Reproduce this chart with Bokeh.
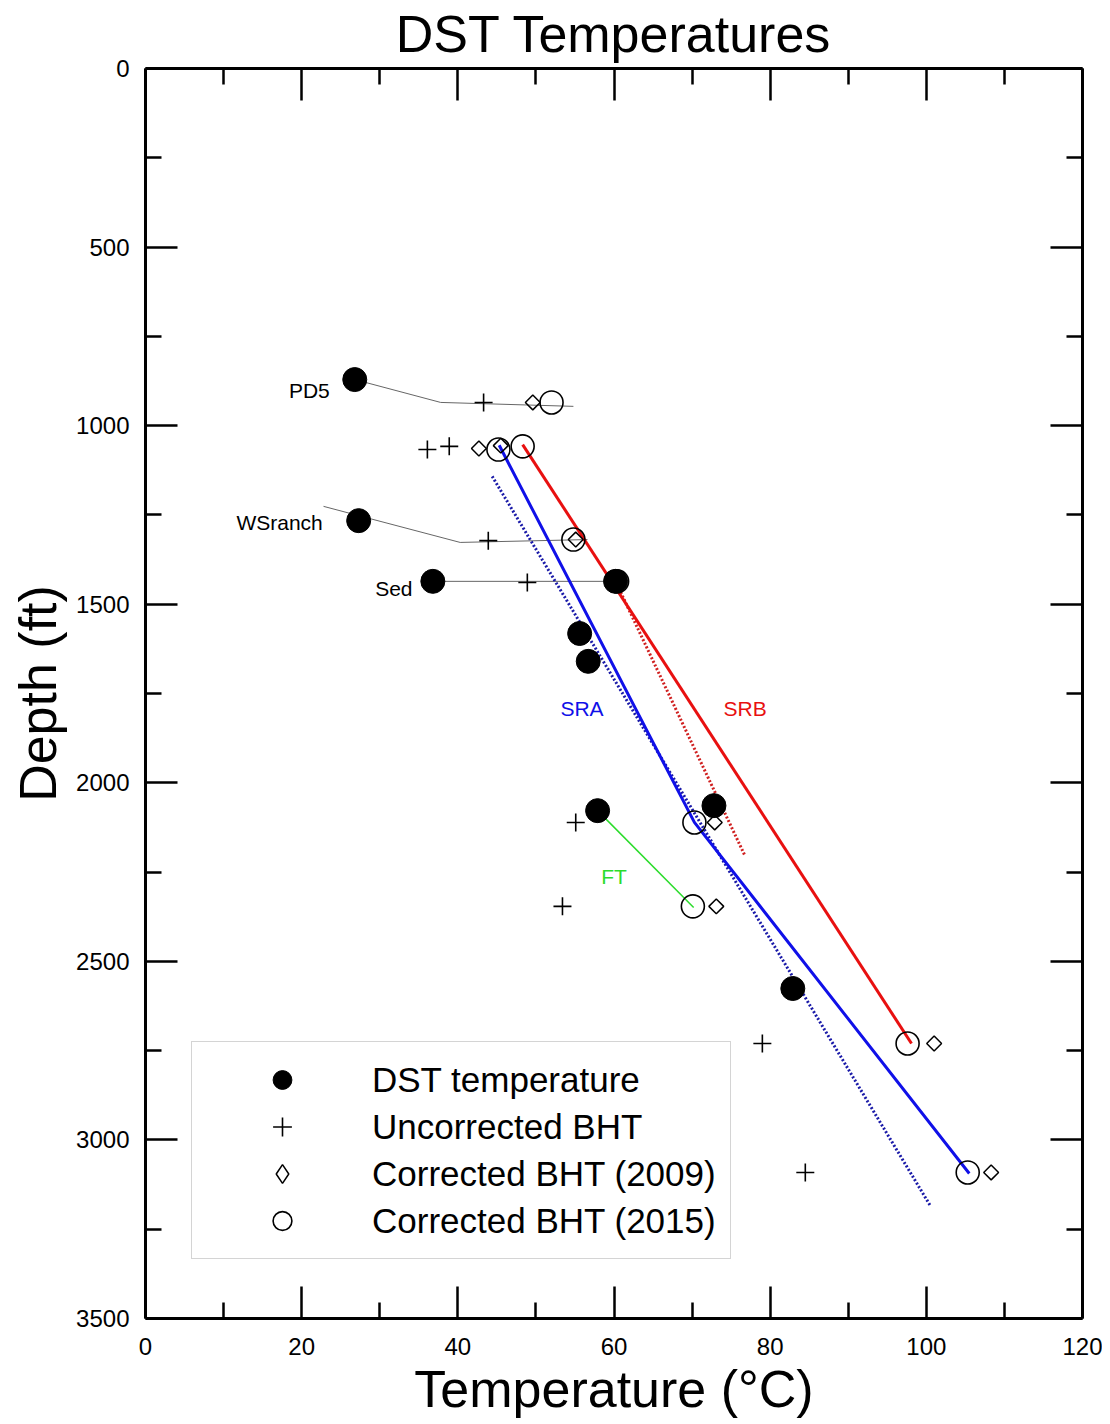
import math
from bokeh.plotting import figure
from bokeh.models import (Range1d, LinearAxis, FixedTicker, Legend, LegendItem,
                          ColumnDataSource, CustomLabelingPolicy)
from bokeh.core.properties import value
from bokeh.embed import file_html
from bokeh.resources import INLINE

FONT = "Liberation Sans"

# ---------------- data ----------------
dst_temp = [26.8, 27.3, 36.8, 60.2, 55.6, 56.7, 57.9, 72.8, 82.9]
dst_depth = [871, 1266, 1436, 1436, 1582, 1660, 2078, 2064, 2576]

bht_temp = [43.3, 36.1, 38.9, 43.9, 48.9, 55.1, 53.4, 79.0, 84.5]
bht_depth = [935, 1067, 1058, 1322, 1439, 2111, 2346, 2730, 3091]

c2009_temp = [49.6, 42.7, 45.5, 55.1, 72.9, 73.1, 101.0, 108.3]
c2009_depth = [935, 1064, 1056, 1319, 2111, 2346, 2730, 3091]

c2015_temp = [52.0, 45.2, 48.3, 54.8, 60.4, 70.3, 70.1, 97.6, 105.3]
c2015_depth = [935, 1067, 1058, 1319, 1436, 2111, 2346, 2730, 3091]

pd5_line_t = [26.8, 37.8, 54.8]
pd5_line_d = [871, 935, 946]
ws_line_t = [22.8, 40.3, 56.6]
ws_line_d = [1226, 1327, 1319]
sed_line_t = [36.8, 60.4]
sed_line_d = [1436, 1436]

sra_t = [45.3, 70.3, 105.5]
sra_d = [1055, 2111, 3094]
sra_dot_t = [44.4, 100.5]
sra_dot_d = [1142, 3184]

srb_t = [48.3, 98.1]
srb_d = [1053, 2730]
srb_dot_t = [60.2, 76.7]
srb_dot_d = [1436, 2201]

ft_t = [57.9, 70.2]
ft_d = [2078, 2349]

well_names = ["PD5", "WSranch", "Sed"]
well_label_t = [23.6, 22.7, 34.2]
well_label_d = [901, 1271, 1455]

trend_names = ["SRA", "SRB", "FT"]
trend_label_t = [55.9, 76.8, 60.0]
trend_label_d = [1792, 1792, 2262]
trend_colors = ["#1010e8", "#e81010", "#2bdc2b"]

legend_labels = ["DST temperature", "Uncorrected BHT",
                 "Corrected BHT (2009)", "Corrected BHT (2015)"]

x_major = [0, 20, 40, 60, 80, 100, 120]
x_minor = [10, 30, 50, 70, 90, 110]
y_major = [0, 500, 1000, 1500, 2000, 2500, 3000, 3500]
y_minor = [250, 750, 1250, 1750, 2250, 2750, 3250]

# ---------------- figure ----------------
p = figure(frame_width=937, frame_height=1250,
           x_range=Range1d(0, 120), y_range=Range1d(3500, 0),
           output_backend="svg", toolbar_location=None,
           min_border_left=145, min_border_right=20,
           min_border_top=68, min_border_bottom=96)
p.xgrid.visible = False
p.ygrid.visible = False
p.outline_line_color = None

p.title.text = "DST Temperatures"
p.title.text_font = FONT
p.title.text_font_size = "52px"
p.title.text_font_style = "normal"
p.title.text_color = "black"
p.title.align = "center"
p.title.text_line_height = 0.9
p.title.standoff = 4


def style_axis(ax, major, minor, labels=True):
    ax.ticker = FixedTicker(ticks=major, minor_ticks=minor)
    ax.axis_line_width = 3
    ax.axis_line_color = "black"
    ax.major_tick_in = 32
    ax.major_tick_out = 0
    ax.minor_tick_in = 16
    ax.minor_tick_out = 0
    ax.major_tick_line_width = 2.5
    ax.minor_tick_line_width = 2.5
    ax.major_tick_line_color = "black"
    ax.minor_tick_line_color = "black"
    ax.major_label_text_font = FONT
    ax.major_label_text_color = "black"
    if labels:
        ax.major_label_text_font_size = "24px"
    else:
        ax.major_label_text_font_size = "2px"
        ax.major_label_standoff = 0
        ax.major_label_policy = CustomLabelingPolicy(code="return []")


xb = p.xaxis[0]
style_axis(xb, x_major, x_minor)
xb.major_label_standoff = 19
xb.axis_label = "Temperature (°C)"
xb.axis_label_text_font = FONT
xb.axis_label_text_font_size = "52px"
xb.axis_label_text_font_style = "normal"
xb.axis_label_text_color = "black"
xb.axis_label_standoff = 2

yl = p.yaxis[0]
style_axis(yl, y_major, y_minor)
yl.major_label_standoff = 16
yl.axis_label = "Depth (ft)"
yl.axis_label_text_font = FONT
yl.axis_label_text_font_size = "52px"
yl.axis_label_text_font_style = "normal"
yl.axis_label_text_color = "black"
yl.axis_label_standoff = 6

xt = LinearAxis()
style_axis(xt, x_major, x_minor, labels=False)
p.add_layout(xt, "above")
yr = LinearAxis()
style_axis(yr, y_major, y_minor, labels=False)
p.add_layout(yr, "right")

# ---------------- lines ----------------
p.line(pd5_line_t, pd5_line_d, line_color="#666666", line_width=1)
p.line(ws_line_t, ws_line_d, line_color="#666666", line_width=1)
p.line(sed_line_t, sed_line_d, line_color="#666666", line_width=1)

p.line(sra_dot_t, sra_dot_d, line_color="#1a1aa8", line_width=3, line_dash="2 2")
p.line(srb_dot_t, srb_dot_d, line_color="#d02020", line_width=3, line_dash="2 2")
p.line(sra_t, sra_d, line_color=trend_colors[0], line_width=3)
p.line(srb_t, srb_d, line_color=trend_colors[1], line_width=3)
p.line(ft_t, ft_d, line_color=trend_colors[2], line_width=1.5)

# ---------------- markers ----------------
r_c2015 = p.scatter(c2015_temp, c2015_depth, marker="circle", size=23,
                    fill_color=None, line_color="black", line_width=1.6)
r_c2009 = p.scatter(c2009_temp, c2009_depth, marker="square", size=10.5,
                    angle=math.pi / 4, fill_color=None, line_color="black",
                    line_width=1.5)
r_bht = p.scatter(bht_temp, bht_depth, marker="cross", size=18,
                  line_color="black", line_width=1.6)
r_dst = p.scatter(dst_temp, dst_depth, marker="circle", size=24,
                  fill_color="black", line_color="black")

# legend-only glyph for the diamond symbol (one point with no position)
r_c2009_leg = p.scatter([float("nan")], [float("nan")], marker="diamond",
                        size=24, fill_color=None, line_color="black",
                        line_width=1.5)

# ---------------- text labels ----------------
src_w = ColumnDataSource(dict(x=well_label_t, y=well_label_d, t=well_names))
p.text(x="x", y="y", text="t", source=src_w, text_align="right",
       text_baseline="middle", text_font=value(FONT), text_font_size="21px",
       text_color="black")
src_t = ColumnDataSource(dict(x=trend_label_t, y=trend_label_d, t=trend_names,
                              c=trend_colors))
p.text(x="x", y="y", text="t", source=src_t, text_align="center",
       text_baseline="middle", text_font=value(FONT), text_font_size="21px",
       text_color="c")

# ---------------- legend ----------------
legend = Legend(items=[
    LegendItem(label=legend_labels[0], renderers=[r_dst]),
    LegendItem(label=legend_labels[1], renderers=[r_bht]),
    LegendItem(label=legend_labels[2], renderers=[r_c2009_leg]),
    LegendItem(label=legend_labels[3], renderers=[r_c2015]),
], location=(46, 59), glyph_width=152, glyph_height=47, spacing=0,
    padding=14, label_standoff=14, margin=0,
    label_text_font=FONT, label_text_font_size="35px",
    label_text_color="black",
    border_line_color="#aaaaaa", border_line_width=1,
    background_fill_color="white", background_fill_alpha=1)
p.add_layout(legend, "center")

open("out.html", "w").write(file_html(p, INLINE))
